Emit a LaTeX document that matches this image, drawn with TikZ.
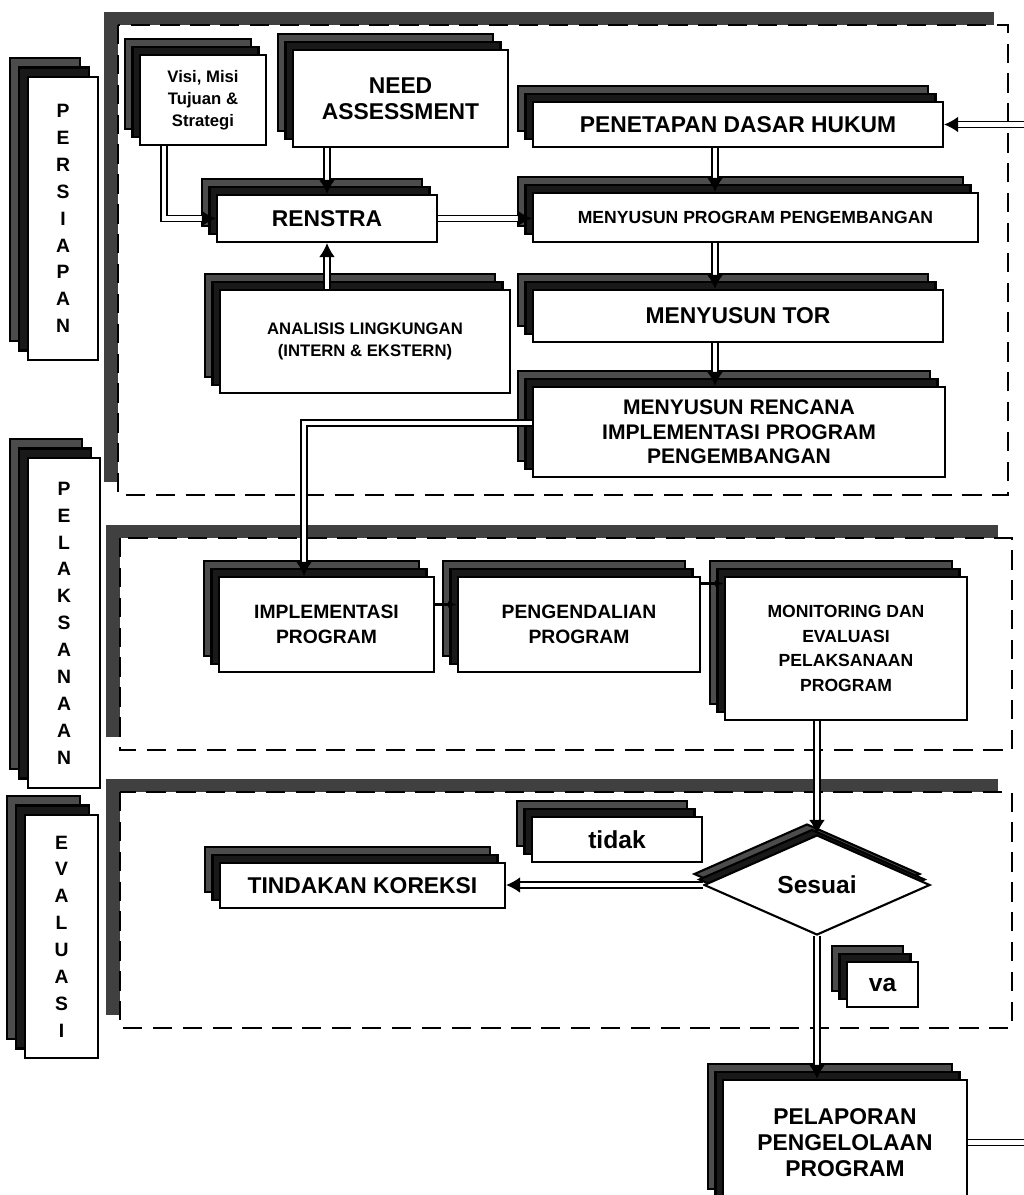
\documentclass[tikz,border=0pt]{standalone}
\usepackage{fontspec}
\setsansfont{Liberation Sans}
\usetikzlibrary{shapes.geometric,shadows,arrows.meta}

\tikzset{
  wh/.style 2 args={minimum width=#1*0.02cm, minimum height=#2*0.02cm},
  stack/.style={copy shadow={shadow xshift=-0.3cm, shadow yshift=0.32cm, fill=black!70, draw=black},
                copy shadow={shadow xshift=-0.15cm, shadow yshift=0.16cm, fill=black!90, draw=black}},
  box/.style={draw, line width=1.2pt, fill=white, align=center, inner sep=1pt, stack},
  bigtext/.style={font=\sffamily\bfseries\fontsize{13}{15}\selectfont},
  midtext/.style={font=\sffamily\bfseries\fontsize{11}{14.5}\selectfont},
  smalltext/.style={font=\sffamily\bfseries\fontsize{9.5}{12.5}\selectfont},
  phasename/.style={draw, line width=1.2pt, fill=white, align=center, inner sep=1pt,
    font=\sffamily\bfseries\fontsize{11}{15.3}\selectfont,
    copy shadow={shadow xshift=-0.36cm, shadow yshift=0.38cm, fill=black!70, draw=black},
    copy shadow={shadow xshift=-0.18cm, shadow yshift=0.19cm, fill=black!90, draw=black}},
  phase/.style={draw, dash pattern=on 11pt off 6pt, line width=1.6pt, fill=white,
    copy shadow={shadow xshift=-0.28cm, shadow yshift=0.26cm, fill=black!75, draw=none}},
  flow/.style={double, double distance=2.5pt, line width=1pt, -{Latex[length=8pt, width=9pt]}},
  nextarrow/.style={line width=1.4pt, -{Latex[length=5pt]}},
}

\begin{document}
\begin{tikzpicture}[x=0.02cm, y=-0.02cm]
  \useasboundingbox (0,0) rectangle (1023,1195);
  % Bingkai tiap tahap
  \draw[phase] (118,25) rectangle (1008,495);
  \draw[phase] (120,538) rectangle (1012,750);
  \draw[phase] (120,792) rectangle (1012,1028);
  % Nama tahap
  \node[phasename, wh={70}{283}] (persiapan) at (63,218.5) {P\\E\\R\\S\\I\\A\\P\\A\\N};
  \node[phasename, wh={72}{330}] (pelaksanaan) at (64,623) {P\\E\\L\\A\\K\\S\\A\\N\\A\\A\\N};
  \node[phasename, wh={73}{243}] (evaluasi) at (61.5,936.5) {E\\V\\A\\L\\U\\A\\S\\I};

  % Tahap persiapan
  \node[box, smalltext, wh={126}{90}] (visi) at (203,100) {Visi, Misi\\Tujuan \&\\Strategi};
  \node[box, bigtext, wh={215}{97}] (need) at (400.5,98.5) {NEED\\ASSESSMENT};
  \node[box, bigtext, wh={220}{47}] (renstra) at (327,218.5) {RENSTRA};
  \node[box, smalltext, wh={290}{103}] (analisis) at (365,341.5) {ANALISIS LINGKUNGAN\\(INTERN \& EKSTERN)};
  \node[box, bigtext, wh={410}{45}] (penetapan) at (738,124.5) {PENETAPAN DASAR HUKUM};
  \node[box, font=\sffamily\bfseries\fontsize{10}{12}\selectfont, wh={445}{49}] (program) at (755.5,217.5) {MENYUSUN PROGRAM PENGEMBANGAN};
  \node[box, bigtext, wh={410}{52}] (tor) at (738,316) {MENYUSUN TOR};
  \node[box, font=\sffamily\bfseries\fontsize{12}{14}\selectfont, wh={412}{90}] (rencana) at (739,432) {MENYUSUN RENCANA\\IMPLEMENTASI PROGRAM\\PENGEMBANGAN};
  \coordinate (spine) at (715,0);

  % Tahap pelaksanaan
  \node[box, midtext, wh={215}{95}] (implementasi) at (326.5,624.5) {IMPLEMENTASI\\PROGRAM};
  \node[box, midtext, wh={242}{95}] (pengendalian) at (579,624.5) {PENGENDALIAN\\PROGRAM};
  \node[box, font=\sffamily\bfseries\fontsize{10}{14}\selectfont, wh={242}{143}] (monitoring) at (846,648.5) {MONITORING DAN\\EVALUASI\\PELAKSANAAN\\PROGRAM};

  % Tahap evaluasi
  \node[box, font=\sffamily\bfseries\fontsize{14}{16}\selectfont, wh={170}{45}] (tidak) at (617,839.5) {tidak};
  \node[diamond, draw, line width=1.2pt, fill=white, aspect=2.26, inner sep=0pt, wh={226}{100},
    font=\sffamily\bfseries\fontsize{14}{16}\selectfont,
    copy shadow={shadow xshift=-0.2cm, shadow yshift=0.22cm, fill=black!70, draw=black},
    copy shadow={shadow xshift=-0.1cm, shadow yshift=0.11cm, fill=black!90, draw=black}] (sesuai) at (817,885) {Sesuai};
  \node[box, font=\sffamily\bfseries\fontsize{14}{16}\selectfont, wh={71}{45}] (ya) at (882.5,984.5) {va};
  \node[box, bigtext, wh={285}{45}] (koreksi) at (362.5,885.5) {TINDAKAN KOREKSI};
  \node[box, bigtext, wh={244}{125}] (pelaporan) at (845,1142.5) {PELAPORAN\\PENGELOLAAN\\PROGRAM};
  \coordinate (balik) at (1032,0);

  % Aliran
  \draw[flow] ([xshift=0.5cm]visi.south west) |- (renstra.west);
  \draw[flow] (need.south -| renstra.north) -- (renstra.north);
  \draw[flow] (analisis.north -| renstra.south) -- (renstra.south);
  \draw[flow] (renstra.east) -- (renstra.east -| program.west);
  \draw[flow] (penetapan.south -| spine) -- (program.north -| spine);
  \draw[flow] (program.south -| spine) -- (tor.north -| spine);
  \draw[flow] (tor.south -| spine) -- (rencana.north -| spine);
  \draw[flow] ([yshift=0.18cm]rencana.west) -| ([xshift=-0.45cm]implementasi.north);
  \draw[nextarrow] ([yshift=0.4cm]implementasi.east) -- ([yshift=0.4cm]implementasi.east -| pengendalian.west);
  \draw[nextarrow] ([yshift=0.82cm]pengendalian.east) -- ([yshift=0.82cm]pengendalian.east -| monitoring.west);
  \draw[flow] (monitoring.south -| sesuai.north) -- (sesuai.north);
  \draw[flow] (sesuai.west) -- (sesuai.west -| koreksi.east);
  \draw[flow] (sesuai.south) -- (sesuai.south |- pelaporan.north);
  \draw[flow] (pelaporan.east) -- (pelaporan.east -| balik) -- (penetapan.east -| balik) -- (penetapan.east);
\end{tikzpicture}
\end{document}
